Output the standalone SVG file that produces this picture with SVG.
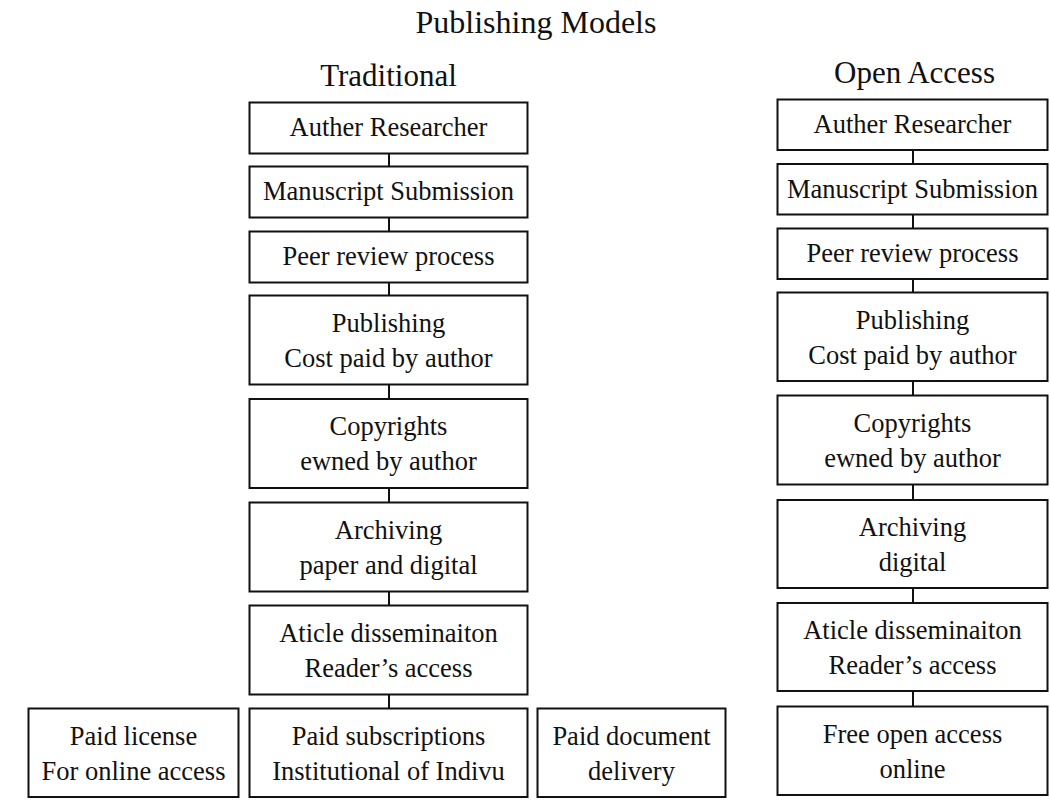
<svg xmlns="http://www.w3.org/2000/svg" width="1050" height="803" viewBox="0 0 1050 803">
<style>
.bg{fill:#ffffff}
.box{fill:#ffffff;stroke:#111111;stroke-width:2}
.t{font-family:"Liberation Serif","Times New Roman",serif;font-size:26.5px;fill:#111111;text-anchor:middle}
.h{font-family:"Liberation Serif","Times New Roman",serif;font-size:31px;fill:#111111;text-anchor:middle}
.title{font-family:"Liberation Serif","Times New Roman",serif;font-size:32px;fill:#111111;text-anchor:middle}
.c{stroke:#111111;stroke-width:2;fill:none}
</style>
<rect class="bg" x="0" y="0" width="1050" height="803"/>
<text class="title" x="536" y="33">Publishing Models</text>
<text class="h" x="388.5" y="86">Traditional</text>
<text class="h" x="914.5" y="83">Open Access</text>

<g id="connectors">
<line class="c" x1="389" y1="153.5" x2="389" y2="166.5"/>
<line class="c" x1="389" y1="217.5" x2="389" y2="231.5"/>
<line class="c" x1="389" y1="282.5" x2="389" y2="295.5"/>
<line class="c" x1="389" y1="384.5" x2="389" y2="399"/>
<line class="c" x1="389" y1="488" x2="389" y2="502.5"/>
<line class="c" x1="389" y1="591.5" x2="389" y2="605.5"/>
<line class="c" x1="389" y1="694.5" x2="389" y2="708.5"/>
<line class="c" x1="913" y1="150" x2="913" y2="164"/>
<line class="c" x1="913" y1="214.5" x2="913" y2="228.5"/>
<line class="c" x1="913" y1="279" x2="913" y2="292.5"/>
<line class="c" x1="913" y1="381" x2="913" y2="395.5"/>
<line class="c" x1="913" y1="484.5" x2="913" y2="500"/>
<line class="c" x1="913" y1="588" x2="913" y2="603"/>
<line class="c" x1="913" y1="691" x2="913" y2="706.5"/>
</g>

<g id="t1">
<rect class="box" x="249.5" y="102.5" width="278" height="51"/>
<text class="t" x="388.5" y="136">Auther Researcher</text>
</g>
<g id="t2">
<rect class="box" x="249.5" y="166.5" width="278" height="51"/>
<text class="t" x="388.5" y="200">Manuscript Submission</text>
</g>
<g id="t3">
<rect class="box" x="249.5" y="231.5" width="278" height="51"/>
<text class="t" x="388.5" y="265">Peer review process</text>
</g>
<g id="t4">
<rect class="box" x="249.5" y="295.5" width="278" height="89"/>
<text class="t" x="388.5" y="331.5">Publishing</text>
<text class="t" x="388.5" y="366.5">Cost paid by author</text>
</g>
<g id="t5">
<rect class="box" x="249.5" y="399" width="278" height="89"/>
<text class="t" x="388.5" y="435">Copyrights</text>
<text class="t" x="388.5" y="470">ewned by author</text>
</g>
<g id="t6">
<rect class="box" x="249.5" y="502.5" width="278" height="89"/>
<text class="t" x="388.5" y="538.5">Archiving</text>
<text class="t" x="388.5" y="573.5">paper and digital</text>
</g>
<g id="t7">
<rect class="box" x="249.5" y="605.5" width="278" height="89"/>
<text class="t" x="388.5" y="641.5">Aticle disseminaiton</text>
<text class="t" x="388.5" y="676.5">Reader’s access</text>
</g>
<g id="t8a">
<rect class="box" x="28.5" y="708.5" width="210" height="88.5"/>
<text class="t" x="133.5" y="745">Paid license</text>
<text class="t" x="133.5" y="780">For online access</text>
</g>
<g id="t8b">
<rect class="box" x="249.5" y="708.5" width="278" height="88.5"/>
<text class="t" x="388.5" y="745">Paid subscriptions</text>
<text class="t" x="388.5" y="780">Institutional of Indivu</text>
</g>
<g id="t8c">
<rect class="box" x="537.5" y="708.5" width="188" height="88.5"/>
<text class="t" x="631.5" y="745">Paid document</text>
<text class="t" x="631.5" y="780">delivery</text>
</g>

<g id="o1">
<rect class="box" x="777.5" y="99.5" width="270" height="50.5"/>
<text class="t" x="912.5" y="133">Auther Researcher</text>
</g>
<g id="o2">
<rect class="box" x="777.5" y="164" width="270" height="50.5"/>
<text class="t" x="912.5" y="197.5">Manuscript Submission</text>
</g>
<g id="o3">
<rect class="box" x="777.5" y="228.5" width="270" height="50.5"/>
<text class="t" x="912.5" y="262">Peer review process</text>
</g>
<g id="o4">
<rect class="box" x="777.5" y="292.5" width="270" height="88.5"/>
<text class="t" x="912.5" y="328.5">Publishing</text>
<text class="t" x="912.5" y="363.5">Cost paid by author</text>
</g>
<g id="o5">
<rect class="box" x="777.5" y="395.5" width="270" height="89"/>
<text class="t" x="912.5" y="431.5">Copyrights</text>
<text class="t" x="912.5" y="466.5">ewned by author</text>
</g>
<g id="o6">
<rect class="box" x="777.5" y="500" width="270" height="88"/>
<text class="t" x="912.5" y="535.5">Archiving</text>
<text class="t" x="912.5" y="570.5">digital</text>
</g>
<g id="o7">
<rect class="box" x="777.5" y="603" width="270" height="88"/>
<text class="t" x="912.5" y="638.5">Aticle disseminaiton</text>
<text class="t" x="912.5" y="673.5">Reader’s access</text>
</g>
<g id="o8">
<rect class="box" x="777.5" y="706.5" width="270" height="88.5"/>
<text class="t" x="912.5" y="742.5">Free open access</text>
<text class="t" x="912.5" y="777.5">online</text>
</g>
</svg>
